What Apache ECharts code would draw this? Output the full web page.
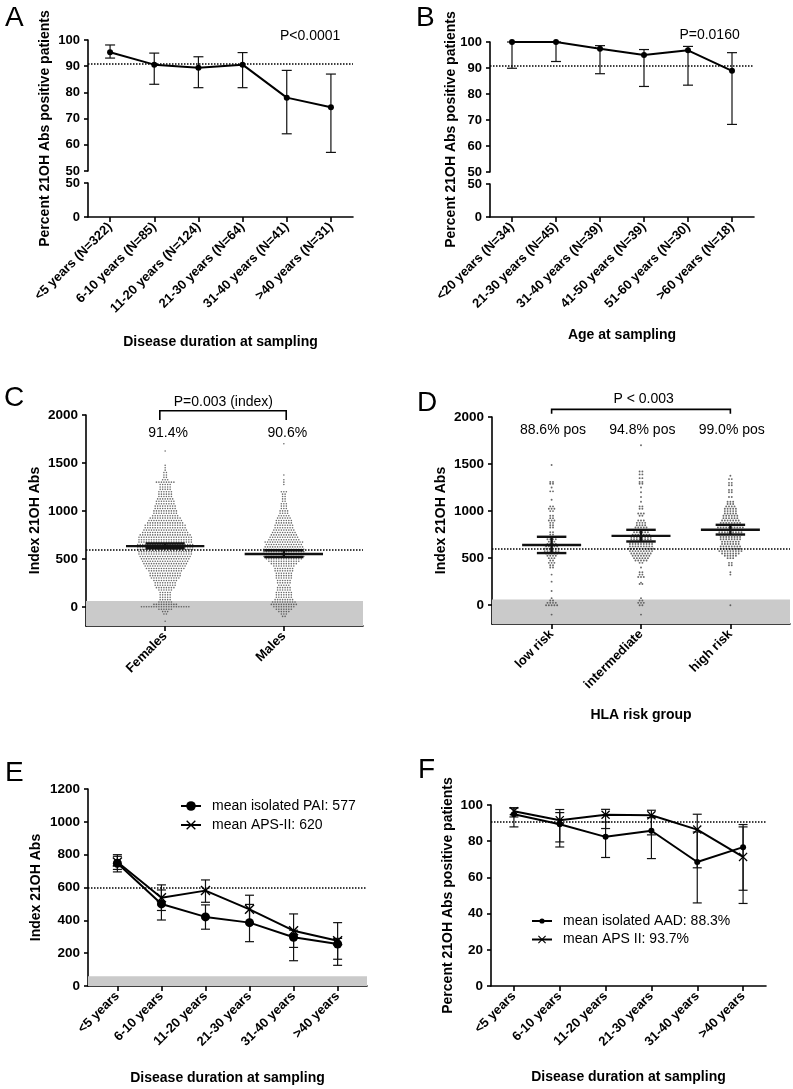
<!DOCTYPE html>
<html><head><meta charset="utf-8">
<script src="https://cdn.jsdelivr.net/npm/echarts@6/dist/echarts.min.js"></script>
<style>html,body{margin:0;padding:0;background:#fff}#c{width:793px;height:1089px}</style>
</head><body><div id="c"></div>
<script>
// ---------------- DATA ----------------
const catsA = ['<5 years (N=322)','6-10 years (N=85)','11-20 years (N=124)','21-30 years (N=64)','31-40 years (N=41)','>40 years (N=31)'];
const pctA  = [95.3, 90.6, 89.4, 90.6, 78.0, 74.3];
const lowA  = [93.1, 83.1, 81.8, 81.8, 64.2, 57.1];
const highA = [98.1, 95.0, 93.6, 95.2, 88.4, 87.0];
const refA = 91;
const pTextA = 'P<0.0001';

const catsB = ['<20 years (N=34)','21-30 years (N=45)','31-40 years (N=39)','41-50 years (N=39)','51-60 years (N=30)','>60 years (N=18)'];
const pctB  = [100, 100, 97.4, 95.0, 96.8, 88.9];
const lowB  = [89.9, 92.5, 87.8, 82.9, 83.4, 68.3];
const highB = [100, 100, 98.6, 97.1, 98.3, 95.9];
const refB = 91;
const pTextB = 'P=0.0160';

const ticksTop = [50, 60, 70, 80, 90, 100];
const ticksBottom = [0, 50];

const catsC = ['Females','Males'];
// beeswarm rows: [value, number of dots in row]
const femalesRows = [[1625,1],[1475,1],[1450,1],[1425,1],[1400,2],[1375,2],[1350,2],[1325,3],[1300,8],[1275,5],[1250,5],[1225,5],[1200,6],[1175,6],[1150,6],[1125,7],[1100,8],[1075,8],[1050,9],[1025,9],[1000,10],[975,10],[950,11],[925,13],[900,14],[875,15],[850,17],[825,17],[800,18],[775,19],[750,21],[725,22],[700,22],[675,22],[650,23],[625,23],[600,23],[575,22],[550,22],[525,21],[500,20],[475,19],[450,18],[425,17],[400,16],[375,14],[350,13],[325,13],[300,12],[275,10],[250,9],[225,9],[200,8],[175,6],[150,5],[125,5],[100,5],[75,5],[50,6],[25,10],[0,20],[-25,6],[-50,3],[-75,2],[-150,1]];
const malesRows = [[1700,1],[1375,1],[1325,1],[1300,1],[1275,1],[1200,3],[1175,2],[1150,2],[1125,2],[1100,2],[1075,3],[1050,3],[1025,3],[1000,4],[975,4],[950,5],[925,6],[900,7],[875,7],[850,8],[825,8],[800,9],[775,10],[750,11],[725,12],[700,13],[675,16],[650,15],[625,16],[600,17],[575,17],[550,18],[525,17],[500,15],[475,13],[450,11],[425,9],[400,8],[375,8],[350,7],[325,7],[300,7],[275,6],[250,6],[225,5],[200,6],[175,6],[150,7],[125,7],[100,7],[75,8],[50,10],[25,11],[0,9],[-25,7],[-50,5],[-75,3],[-100,2]];
const meanC = [633, 550];
const semLowC = [610, 520];
const semHighC = [660, 590];
const pctC = ['91.4%','90.6%'];
const pTextC = 'P=0.003 (index)';
const refC = 600;
const ticksC = [0, 500, 1000, 1500, 2000];

const catsD = ['low risk','intermediate','high risk'];
const lowRiskRows = [[1490,1],[1310,2],[1290,2],[1250,1],[1210,2],[1120,1],[1050,2],[1025,3],[1000,2],[950,2],[925,2],[900,3],[875,2],[850,2],[825,2],[775,2],[750,2],[725,3],[700,4],[675,3],[650,4],[625,5],[600,6],[575,6],[550,5],[525,4],[500,3],[475,2],[450,3],[425,2],[400,2],[325,1],[250,1],[150,1],[75,1],[50,2],[25,4],[0,5],[-100,1]];
const intermRows = [[1700,1],[1420,2],[1390,2],[1350,2],[1310,2],[1290,2],[1250,1],[1200,1],[1150,1],[1100,1],[1050,2],[1025,2],[975,3],[950,2],[900,3],[875,4],[850,4],[825,5],[800,5],[775,6],[750,7],[725,8],[700,8],[675,9],[650,9],[625,9],[600,10],[575,9],[550,8],[525,7],[500,6],[475,5],[450,2],[400,1],[350,2],[325,2],[300,3],[240,1],[225,2],[75,1],[50,2],[25,3],[0,2],[-100,1]];
const highRiskRows = [[1375,1],[1340,2],[1300,2],[1275,2],[1225,2],[1200,2],[1150,2],[1100,3],[1075,3],[1050,4],[1025,5],[1000,5],[975,5],[950,6],[925,6],[900,7],[875,8],[850,9],[825,10],[800,10],[775,9],[750,9],[725,8],[700,8],[675,7],[650,7],[625,8],[600,8],[575,9],[550,7],[525,5],[500,3],[450,2],[425,2],[350,1],[325,1],[0,1]];
const meanD = [639, 737, 801];
const semLowD = [554, 677, 751];
const semHighD = [727, 801, 854];
const pctD = ['88.6% pos','94.8% pos','99.0% pos'];
const pTextD = 'P < 0.003';
const refD = 600;
const ticksD = [0, 500, 1000, 1500, 2000];
const negBandTop = 60; // grey "negative" zone upper limit

const catsE = ['<5 years','6-10 years','11-20 years','21-30 years','31-40 years','>40 years'];
const nameE1 = 'mean isolated PAI: 577';
const nameE2 = 'mean APS-II: 620';
const paiE   = [748, 500, 421, 386, 297, 256];
const paiLow = [695, 402, 346, 270, 154, 126];
const paiHigh= [800, 585, 494, 497, 340, 290];
const apsE   = [755, 537, 581, 467, 337, 276];
const apsLow = [710, 460, 510, 385, 235, 163];
const apsHigh= [790, 616, 646, 553, 439, 386];
const refE = 600;
const ticksE = [0, 200, 400, 600, 800, 1000, 1200];

const catsF = ['<5 years','6-10 years','11-20 years','21-30 years','31-40 years','>40 years'];
const nameF1 = 'mean isolated AAD: 88.3%';
const nameF2 = 'mean APS II: 93.7%';
const aadF   = [94.9, 89.4, 82.4, 85.8, 68.5, 76.7];
const aadLow = [87.9, 76.8, 71.0, 70.4, 45.9, 52.9];
const aadHigh= [98.3, 95.8, 90.6, 93.0, 85.1, 89.2];
const apsF   = [96.6, 91.6, 94.6, 94.3, 86.4, 71.3];
const apsFLow= [93.4, 79.6, 87.0, 83.5, 65.3, 45.6];
const apsFHigh=[98.5, 97.5, 97.6, 97.1, 94.9, 87.9];
const refF = 91;
const ticksF = [0, 20, 40, 60, 80, 100];

// ---------------- STYLE HELPERS ----------------
const FONT = '"Liberation Sans", Arial, Helvetica, sans-serif';
const BLACK = '#000';
const axLine = () => ({show:true, onZero:false, lineStyle:{color:BLACK, width:1.6}});
const axTick = (len, extra) => Object.assign({show:true, length:len, lineStyle:{color:BLACK, width:1.6}}, extra||{});
const lbl = (extra) => Object.assign({color:BLACK, fontWeight:'bold', fontSize:13, fontFamily:FONT}, extra||{});
const nameStyle = {color:BLACK, fontWeight:'bold', fontSize:14, fontFamily:FONT};
const XSYM = 'path://M1,0 L5,4 L9,0 L10,1 L6,5 L10,9 L9,10 L5,6 L1,10 L0,9 L4,5 L0,1 Z';
const idx = arr => arr.map((_, i) => i);
const dotted = (v) => ({silent:true, symbol:'none', label:{show:false}, lineStyle:{color:BLACK, type:[1.5,1.5], width:1.6}, data:[{yAxis:v}]});
const band = (lo, hi) => ({silent:true, itemStyle:{color:'#cacaca'}, data:[[{yAxis:lo},{yAxis:hi}]]});

function errSeries(xi, yi, lows, highs, cap) {
  return {type:'custom', xAxisIndex:xi, yAxisIndex:yi, z:2, silent:true,
    data: lows.map((l,i)=>[i, l, highs[i]]),
    encode:{x:0, y:[1,2]},
    renderItem:(params, api)=>{
      const x = api.value(0);
      const lo = api.coord([x, api.value(1)]), hi = api.coord([x, api.value(2)]);
      const st = {stroke:'#111', lineWidth:1.2};
      return {type:'group', children:[
        {type:'line', shape:{x1:lo[0],y1:lo[1],x2:hi[0],y2:hi[1]}, style:st},
        {type:'line', shape:{x1:lo[0]-cap,y1:lo[1],x2:lo[0]+cap,y2:lo[1]}, style:st},
        {type:'line', shape:{x1:hi[0]-cap,y1:hi[1],x2:hi[0]+cap,y2:hi[1]}, style:st}]};
    }};
}
function meanSeries(xi, yi, means, lows, highs) {
  return {type:'custom', xAxisIndex:xi, yAxisIndex:yi, z:6, silent:true,
    data: means.map((m,i)=>[i, m, lows[i], highs[i]]),
    encode:{x:0, y:[1,2,3]},
    renderItem:(p, api)=>{
      const x=api.value(0), m=api.value(1), lo=api.value(2), hi=api.value(3);
      const a=api.coord([x-0.33,m]), b=api.coord([x+0.33,m]);
      const c1=api.coord([x-0.165,lo]), c2=api.coord([x+0.165,lo]);
      const d1=api.coord([x-0.165,hi]), d2=api.coord([x+0.165,hi]);
      const v1=api.coord([x,lo]), v2=api.coord([x,hi]);
      const st={stroke:'#111', lineWidth:2.4};
      return {type:'group', children:[
        {type:'line', shape:{x1:a[0],y1:a[1],x2:b[0],y2:b[1]}, style:st},
        {type:'line', shape:{x1:c1[0],y1:c1[1],x2:c2[0],y2:c2[1]}, style:st},
        {type:'line', shape:{x1:d1[0],y1:d1[1],x2:d2[0],y2:d2[1]}, style:st},
        {type:'line', shape:{x1:v1[0],y1:v1[1],x2:v2[0],y2:v2[1]}, style:st}]};
    }};
}
// beeswarm layout: dots of one row spread symmetrically around the group position
function swarm(rows, center, pitch) {
  const pts = [];
  rows.forEach(([v, n]) => { for (let j = 0; j < n; j++) pts.push([center + (j - (n - 1) / 2) * pitch, v]); });
  return pts;
}
const swarmSeries = (xi, yi, pts, size) => ({type:'scatter', xAxisIndex:xi, yAxisIndex:yi, z:3, silent:true,
  symbol:'circle', symbolSize:size, itemStyle:{color:'#444'}, data:pts});

const lineSeries = (name, xi, yi, data, sym, size) => ({type:'line', name, xAxisIndex:xi, yAxisIndex:yi, z:4,
  data, symbol:sym, symbolSize:size, lineStyle:{color:BLACK, width:2}, itemStyle:{color:BLACK}, silent:true});

// ---------------- OPTION ----------------
const catXHidden = (g, cats) => ({gridIndex:g, type:'category', data:cats, show:false});
const catXShown = (g, cats, name, gap) => ({gridIndex:g, type:'category', data:cats,
  axisLine:axLine(), axisTick:axTick(5,{alignWithLabel:true}),
  axisLabel:lbl({rotate:45, interval:0, margin:8}), splitLine:{show:false},
  name, nameLocation:'middle', nameGap:gap, nameTextStyle:nameStyle});
const valX = (g, cats, name, gap) => ({gridIndex:g, type:'value', min:-0.667, max:cats.length-1+0.667,
  axisLine:axLine(), axisTick:axTick(5,{customValues:idx(cats)}),
  axisLabel:lbl({rotate:45, margin:8, customValues:idx(cats), formatter:v=>cats[Math.round(v)]}),
  splitLine:{show:false}, name:name||'', nameLocation:'middle', nameGap:gap||0, nameTextStyle:nameStyle});
const valY = (g, min, max, ticks, name, gap, fs) => ({gridIndex:g, type:'value', min, max,
  axisLine:axLine(), axisTick:axTick(4,{customValues:ticks}),
  axisLabel:lbl({customValues:ticks, margin:8, fontSize:fs||13, formatter:v=>String(v)}), splitLine:{show:false},
  name:name||'', nameLocation:'middle', nameGap:gap||0, nameTextStyle:nameStyle});
const legendText = {fontSize:14, color:BLACK, fontFamily:FONT, padding:[0,0,0,6]};
const leg = (left, top, names, ih) => ({orient:'vertical', left, top, itemWidth:20, itemHeight:ih, itemGap:5,
  selectedMode:false, data:names, textStyle:legendText});

const option = {
  animation:false,
  backgroundColor:'#fff',
  textStyle:{fontFamily:FONT},
  grid:[
    {left:88, top:40, width:265, height:131},
    {left:88, top:183, width:265, height:34},
    {left:490, top:42, width:264, height:130},
    {left:490, top:184, width:264, height:33},
    {left:86, top:415, width:277, height:211},
    {left:492, top:417, width:298, height:207},
    {left:88, top:789, width:279, height:197},
    {left:491, top:805, width:275, height:181}
  ],
  xAxis:[
    catXHidden(0, catsA),
    catXShown(1, catsA, 'Disease duration at sampling', 118),
    catXHidden(2, catsB),
    catXShown(3, catsB, 'Age at sampling', 111),
    valX(4, catsC),
    valX(5, catsD, 'HLA risk group', 84),
    valX(6, catsE, 'Disease duration at sampling', 85),
    catXShown(7, catsF, 'Disease duration at sampling', 84)
  ],
  yAxis:[
    valY(0, 50, 100, ticksTop),
    valY(1, 0, 50, ticksBottom),
    valY(2, 50, 100, ticksTop),
    valY(3, 0, 50, ticksBottom),
    valY(4, -200, 2000, ticksC, 'Index 21OH Abs', 44, 13.5),
    valY(5, -200, 2000, ticksD, 'Index 21OH Abs', 44, 13.5),
    valY(6, 0, 1200, ticksE, 'Index 21OH Abs', 45, 13.5),
    valY(7, 0, 100, ticksF, 'Percent 21OH Abs positive patients', 36, 13.5)
  ],
  legend:[
    leg(175, 794, [nameE1, nameE2], 12),
    leg(526, 909, [nameF1], 6.5),
    leg(526, 927.5, [nameF2], 10)
  ],
  series:[
    // A
    Object.assign(lineSeries('A', 0, 0, pctA, 'circle', 6), {markLine:dotted(refA)}),
    errSeries(0, 0, lowA, highA, 5),
    {type:'line', xAxisIndex:1, yAxisIndex:1, data:[]},
    // B
    Object.assign(lineSeries('B', 2, 2, pctB, 'circle', 6), {markLine:dotted(refB)}),
    errSeries(2, 2, lowB, highB, 5),
    {type:'line', xAxisIndex:3, yAxisIndex:3, data:[]},
    // C
    {type:'line', xAxisIndex:4, yAxisIndex:4, data:[], z:1, markArea:band(-200, negBandTop), markLine:dotted(refC)},
    swarmSeries(4, 4, swarm(femalesRows, 0, 0.021), 1.6),
    swarmSeries(4, 4, swarm(malesRows, 1, 0.021), 1.6),
    meanSeries(4, 4, meanC, semLowC, semHighC),
    // D
    {type:'line', xAxisIndex:5, yAxisIndex:5, data:[], z:1, markArea:band(-200, negBandTop), markLine:dotted(refD)},
    swarmSeries(5, 5, swarm(lowRiskRows, 0, 0.031), 1.9),
    swarmSeries(5, 5, swarm(intermRows, 1, 0.031), 1.9),
    swarmSeries(5, 5, swarm(highRiskRows, 2, 0.031), 1.9),
    meanSeries(5, 5, meanD, semLowD, semHighD),
    // E
    {type:'line', xAxisIndex:6, yAxisIndex:6, data:[], z:1, markArea:band(0, negBandTop), markLine:dotted(refE)},
    errSeries(6, 6, paiLow, paiHigh, 4.5),
    errSeries(6, 6, apsLow, apsHigh, 4.5),
    lineSeries(nameE1, 6, 6, paiE.map((v,i)=>[i,v]), 'circle', 9),
    lineSeries(nameE2, 6, 6, apsE.map((v,i)=>[i,v]), XSYM, 10),
    // F
    {type:'line', xAxisIndex:7, yAxisIndex:7, data:[], z:1, markLine:dotted(refF)},
    errSeries(7, 7, aadLow, aadHigh, 4.5),
    errSeries(7, 7, apsFLow, apsFHigh, 4.5),
    lineSeries(nameF1, 7, 7, aadF, 'circle', 6),
    lineSeries(nameF2, 7, 7, apsF, XSYM, 9)
  ]
};

const chart = echarts.init(document.getElementById('c'), null, {renderer:'canvas'});
chart.setOption(option);

// ---------------- ANNOTATIONS (positioned through the axes) ----------------
const P = (g, x, y) => chart.convertToPixel({gridIndex:g}, [x, y]);
const catP = (g, f, v) => { const i = Math.floor(f), t = f - i; const a = P(g, i, v), b = P(g, i + 1, v); return [a[0] + (b[0] - a[0]) * t, a[1]]; };
const txt = (p, s, font, align) => ({type:'text', x:p[0], y:p[1], silent:true,
  style:{text:s, font:font, fill:BLACK, align:align||'center', verticalAlign:'middle', textAlign:align||'center', textVerticalAlign:'middle'}});
const REG = '14px ' + FONT, BOLD14 = 'bold 14px ' + FONT, LET = '28px ' + FONT;
const bracket = (g, x0, x1, yTop, yFoot) => ({type:'polyline', silent:true,
  shape:{points:[P(g,x0,yFoot), P(g,x0,yTop), P(g,x1,yTop), P(g,x1,yFoot)]},
  style:{stroke:BLACK, lineWidth:1.6, fill:null}});
const rotTxt = (x, y, s) => ({type:'text', x, y, rotation:Math.PI/2, silent:true,
  style:{text:s, font:BOLD14, fill:BLACK, align:'center', verticalAlign:'middle', textAlign:'center', textVerticalAlign:'middle'}});

const g = [];
// panel letters
g.push(txt([5,18],'A',LET,'left'), txt([416,18],'B',LET,'left'), txt([4,398],'C',LET,'left'),
       txt([417,403],'D',LET,'left'), txt([5,773],'E',LET,'left'), txt([418,770],'F',LET,'left'));
// A/B y names centred on the broken axes
const aTop = P(0, 0, 100)[1], aBot = P(1, 0, 0)[1];
g.push(rotTxt(45, (aTop + aBot) / 2, 'Percent 21OH Abs positive patients'));
const bTop = P(2, 0, 100)[1], bBot = P(3, 0, 0)[1];
g.push(rotTxt(451, (bTop + bBot) / 2, 'Percent 21OH Abs positive patients'));
// P values
g.push(txt(catP(0, 4.53, 101.6), pTextA, REG));
g.push(txt(catP(2, 4.49, 102.8), pTextB, REG));
// C
g.push(bracket(4, -0.045, 1.02, 2044, 1947));
g.push(txt(P(4, 0.49, 2138), pTextC, REG));
g.push(txt(P(4, 0.025, 1814), pctC[0], REG), txt(P(4, 1.03, 1814), pctC[1], REG));
// D
g.push(bracket(5, 0, 2, 2081, 2035));
g.push(txt(P(5, 1.03, 2187), pTextD, REG));
pctD.forEach((s, i) => g.push(txt(P(5, i + 0.015, 1859), s, REG)));

chart.setOption({graphic:{elements:g}});
</script>
</body></html>
